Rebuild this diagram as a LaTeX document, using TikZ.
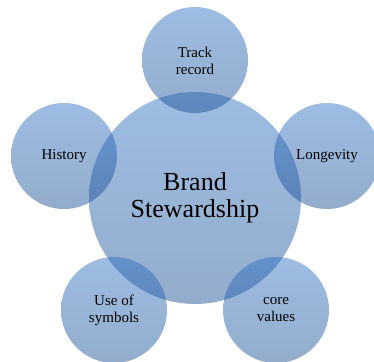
\documentclass[tikz,border=0pt]{standalone}
\usepackage{fontspec}
\setmainfont{Liberation Serif}
\newfontfamily\tnr{Liberation Serif}
\definecolor{ctop}{RGB}{37,108,193}
\definecolor{cbot}{RGB}{17,71,142}
\begin{document}
\begin{tikzpicture}[x=1pt,y=-1pt,
  bubble/.style={circle,inner sep=0pt,top color=ctop,bottom color=cbot,fill opacity=0.45,draw=none},
  lbl/.style={align=center,text=black},
  small/.style={bubble,minimum size=106pt},
  big/.style={bubble,minimum size=212pt},
  stxt/.style={lbl,font=\tnr\fontsize{15}{17}\selectfont},
  btxt/.style={lbl,font=\tnr\fontsize{26}{27}\selectfont}]
\useasboundingbox (0,0) rectangle (374,361);
\node[big] (c) at (195,198) {};
\node[small] (t) at (195,60) {};
\node[small] (h) at (64,156) {};
\node[small] (l) at (327,156) {};
\node[small] (u) at (114,310) {};
\node[small] (v) at (276,310) {};
\node[btxt] (ct) at (c.center) {Brand\\Stewardship};
\node[stxt] (tt) at (195,61) {Track\\record};
\node[stxt] (ht) at (h.center) {History};
\node[stxt] (lt) at (l.center) {Longevity};
\node[stxt] (ut) at (u.center) {Use of\\symbols};
\node[stxt] (vt) at (v.center) {core\\values};
\end{tikzpicture}
\end{document}
